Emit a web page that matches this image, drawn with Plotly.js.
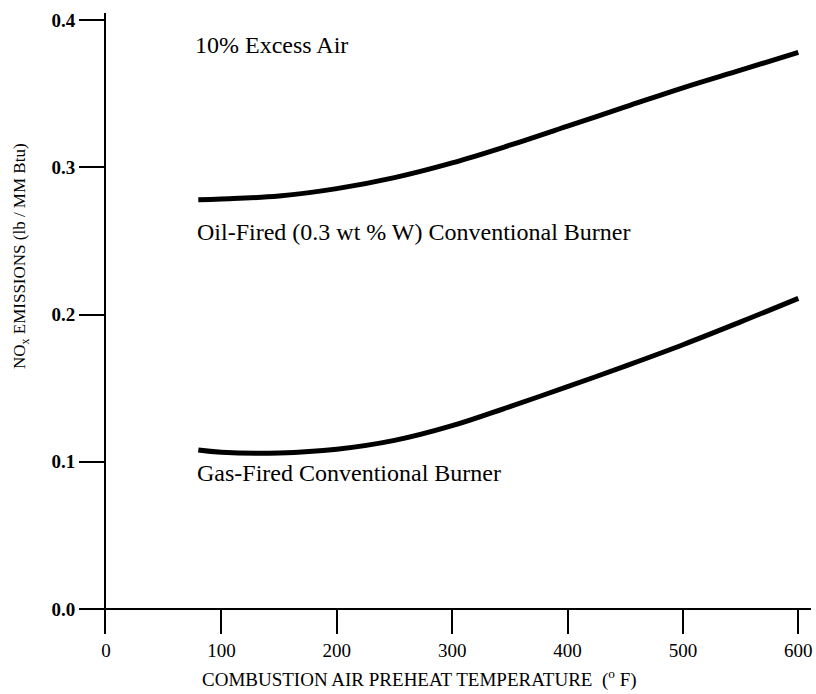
<!DOCTYPE html>
<html>
<head>
<meta charset="utf-8">
<script src="https://cdn.plot.ly/plotly-3.0.1.min.js"></script>
<style>html,body{margin:0;padding:0;background:#fff;}</style>
</head>
<body>
<div id="chart" style="width:816px;height:694px;"></div>
<script>
// Data
var temperatureF = [80, 100, 150, 200, 250, 300, 350, 400, 450, 500, 550, 600];
var oilFiredNOx  = [0.278, 0.2785, 0.2805, 0.2855, 0.293, 0.303, 0.315, 0.328, 0.341, 0.354, 0.366, 0.378];
var gasFiredNOx  = [0.108, 0.1065, 0.106, 0.1085, 0.1145, 0.1245, 0.1375, 0.151, 0.165, 0.1795, 0.195, 0.211];
var xTicks = [0, 100, 200, 300, 400, 500, 600];
var yTicks = [0.0, 0.1, 0.2, 0.3, 0.4];
var yTickText = ["0.0", "0.1", "0.2", "0.3", "0.4"];

var FONT = "Liberation Serif, Times New Roman, serif";

var traces = [
  {x: temperatureF, y: oilFiredNOx, mode: "lines", line: {color: "#000", width: 5, shape: "spline", smoothing: 1.1}, hoverinfo: "skip"},
  {x: temperatureF, y: gasFiredNOx, mode: "lines", line: {color: "#000", width: 5, shape: "spline", smoothing: 1.1}, hoverinfo: "skip"}
];

var layout = {
  width: 816, height: 694,
  margin: {l: 106, r: 5, t: 13, b: 60},
  paper_bgcolor: "#fff", plot_bgcolor: "#fff",
  showlegend: false,
  font: {family: FONT, color: "#000", size: 19},
  xaxis: {
    range: [0, 611],
    tickvals: xTicks,
    ticktext: xTicks.map(String),
    ticks: "inside", ticklen: 25, tickwidth: 2, tickcolor: "#000",
    showline: false, showgrid: false, zeroline: false,
    tickfont: {family: FONT, size: 19, color: "#000"},
    ticklabelstandoff: 3
  },
  yaxis: {
    range: [-0.01698, 0.4048],
    tickvals: yTicks,
    ticktext: yTickText,
    ticks: "outside", ticklen: 25, tickwidth: 2, tickcolor: "#000",
    showline: true, linewidth: 2, linecolor: "#000",
    showgrid: false,
    zeroline: true, zerolinewidth: 2, zerolinecolor: "#000",
    tickfont: {family: FONT, size: 19, color: "#000", weight: "bold"}
  },
  annotations: [
    {xref: "paper", yref: "paper", x: (193 - 106) / 705, y: (634 - 45) / 621, xanchor: "left", yanchor: "middle",
     text: "10% Excess Air", showarrow: false, font: {family: FONT, size: 24, color: "#000"}},
    {xref: "paper", yref: "paper", x: (195 - 106) / 705, y: (634 - 232) / 621, xanchor: "left", yanchor: "middle",
     text: "Oil-Fired (0.3 wt % W) Conventional Burner", showarrow: false, font: {family: FONT, size: 24, color: "#000"}},
    {xref: "paper", yref: "paper", x: (195 - 106) / 705, y: (634 - 473) / 621, xanchor: "left", yanchor: "middle",
     text: "Gas-Fired Conventional Burner", showarrow: false, font: {family: FONT, size: 24, color: "#000"}},
    {xref: "paper", yref: "paper", x: (419 - 106) / 705, y: (634 - 678) / 621, xanchor: "center", yanchor: "middle",
     text: "COMBUSTION AIR PREHEAT TEMPERATURE\u00a0\u00a0(<sup>o</sup> F)", showarrow: false,
     font: {family: FONT, size: 19, color: "#000"}},
    {xref: "paper", yref: "paper", x: (21 - 106) / 705, y: (634 - 256) / 621, xanchor: "center", yanchor: "middle",
     textangle: -90,
     text: "NO<sub>x</sub> EMISSIONS (lb / MM Btu)", showarrow: false,
     font: {family: FONT, size: 17, color: "#000"}}
  ]
};

Plotly.newPlot("chart", traces, layout, {displayModeBar: false, staticPlot: true});
</script>
</body>
</html>
